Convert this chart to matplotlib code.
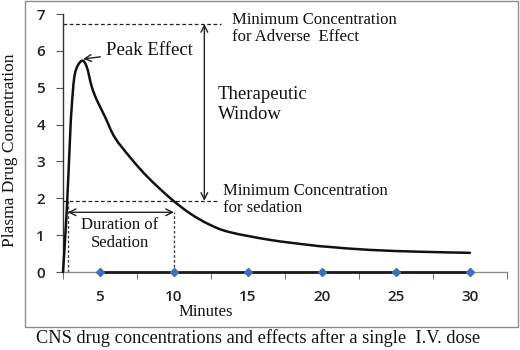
import matplotlib
matplotlib.use("Agg")
import matplotlib.pyplot as plt
from matplotlib.patches import Rectangle, PathPatch
from matplotlib.path import Path

# Data
curve_x = [2.5, 2.75, 2.97, 3.09, 3.31, 3.76, 4.1, 4.44, 4.78, 5.34, 6.0, 7.14, 8.26,
           9.73, 11.08, 12.43, 13.78, 16.5, 19.2, 20.5, 23.2, 26.6, 30.0]
curve_y = [0.0, 1.64, 3.6, 4.49, 5.39, 5.73, 5.57, 5.03, 4.67, 4.21, 3.65, 3.06, 2.56,
           2.01, 1.59, 1.28, 1.08, 0.87, 0.73, 0.68, 0.60, 0.55, 0.52]
marker_x = [5, 10, 15, 20, 25, 30]
marker_y = [0, 0, 0, 0, 0, 0]
x_ticklabels = ["5", "10", "15", "20", "25", "30"]
y_ticks = [0, 1, 2, 3, 4, 5, 6, 7]
adverse_level = 6.73
sedation_level = 1.93
sedation_start = 2.82
sedation_end = 10.0
duration_arrow_y = 1.62
window_x = 12.05
peak_x, peak_y = 3.76, 5.73

serif = "Liberation Serif"
sans = "Open Sans"

W, H = 520, 350
fig = plt.figure(figsize=(W / 100, H / 100), dpi=100)
fig.patch.set_facecolor("white")

def fx(px):
    return px / W

def fy(py):
    return 1 - py / H

ax = fig.add_axes([fx(63), fy(272), fx(507) - fx(63), fy(14) - fy(272)])
ax.set_xlim(2.5, 32.5)
ax.set_ylim(0, 7)
ax.set_facecolor("none")

# border
fig.patches.append(Rectangle((fx(25), fy(327)), fx(518) - fx(25), fy(1) - fy(327),
                             transform=fig.transFigure, fill=False,
                             edgecolor="#8c8c8c", linewidth=1.0))

for s in ["top", "right"]:
    ax.spines[s].set_visible(False)
ax.spines["left"].set_color("#333333")
ax.spines["left"].set_linewidth(1.0)
ax.spines["bottom"].set_color("#8c8c8c")
ax.spines["bottom"].set_linewidth(1.0)

ax.set_yticks(y_ticks)
ax.set_yticklabels([str(v) for v in y_ticks], fontfamily=sans, fontsize=11,
                   fontweight="semibold", color="#222222")
ax.set_xticks(marker_x)
ax.set_xticklabels(x_ticklabels, fontfamily=sans, fontsize=11,
                   fontweight="semibold", color="#222222")
ax.set_xticks([2.5 + 5 * i for i in range(7)], minor=True)
ax.tick_params(axis="x", which="major", length=0, pad=13)
ax.tick_params(axis="x", which="minor", length=5, color="#555555", direction="out")
ax.tick_params(axis="y", length=5, color="#555555", direction="out", pad=8)

# zero series with markers
ax.plot(marker_x, marker_y, color="#1a1a1a", linewidth=2.0, marker="D",
        markersize=4.5, markerfacecolor="#3f6fb5", markeredgecolor="#3f6fb5",
        clip_on=False, zorder=4)

# smoothed concentration curve (Catmull-Rom through the points, as Bezier segments)
pts = list(zip(curve_x, curve_y))
n = len(pts)
verts = [pts[0]]
codes = [Path.MOVETO]
for i in range(n - 1):
    p0 = pts[i - 1] if i > 0 else pts[i]
    p1 = pts[i]
    p2 = pts[i + 1]
    p3 = pts[i + 2] if i + 2 < n else pts[i + 1]
    c1 = (p1[0] + (p2[0] - p0[0]) / 6.0, p1[1] + (p2[1] - p0[1]) / 6.0)
    c2 = (p2[0] - (p3[0] - p1[0]) / 6.0, p2[1] - (p3[1] - p1[1]) / 6.0)
    verts += [c1, c2, p2]
    codes += [Path.CURVE4, Path.CURVE4, Path.CURVE4]
ax.add_patch(PathPatch(Path(verts, codes), facecolor="none", edgecolor="#111111",
                       linewidth=1.8, clip_on=False, zorder=5, capstyle="round",
                       joinstyle="round"))

# dashed horizontal lines
ax.plot([2.5, 13.2], [adverse_level, adverse_level], color="#222222",
        linewidth=0.9, linestyle=(0, (3, 2)))
ax.plot([2.5, 12.9], [sedation_level, sedation_level], color="#222222",
        linewidth=0.9, linestyle=(0, (3, 2)))

# dotted verticals for duration
ax.plot([sedation_start, sedation_start], [0, sedation_level], color="#444444",
        linewidth=1.0, linestyle=(0, (2, 1.5)))
ax.plot([sedation_end, sedation_end], [0, duration_arrow_y], color="#444444",
        linewidth=1.0, linestyle=(0, (2, 1.5)))

# therapeutic window arrow
ax.annotate("", xy=(window_x, adverse_level), xytext=(window_x, sedation_level),
            arrowprops=dict(arrowstyle="<->", color="#222222", lw=1.0,
                            shrinkA=0, shrinkB=0, mutation_scale=12))
# duration arrow
ax.annotate("", xy=(sedation_start, duration_arrow_y), xytext=(sedation_end, duration_arrow_y),
            arrowprops=dict(arrowstyle="<->", color="#222222", lw=1.0,
                            shrinkA=0, shrinkB=0, mutation_scale=12))
# peak effect
ax.annotate("Peak Effect", xy=(peak_x + 0.1, peak_y + 0.05), xytext=(5.4, 6.0),
            fontfamily=serif, fontsize=13.5, color="#111111", va="center",
            arrowprops=dict(arrowstyle="->", color="#222222", lw=1.0,
                            shrinkA=2, shrinkB=0, mutation_scale=12))

def ftext(px, py, s, size, ha="left", **kw):
    fig.text(fx(px), fy(py), s, fontfamily=serif, fontsize=size, color="#111111",
             va="center", ha=ha, **kw)

ftext(232, 20, "Minimum Concentration", 12)
ftext(232, 37, "for Adverse  Effect", 12)
ftext(218, 95, "Therapeutic", 13.5)
ftext(218, 115, "Window", 13.5)
ftext(223, 191, "Minimum Concentration", 12)
ftext(223, 208, "for sedation", 12)
ftext(120, 225, "Duration of", 12, ha="center")
ftext(120, 243, "Sedation", 12, ha="center")
ftext(10, 150, "Plasma Drug Concentration", 12.5, ha="center", rotation=90)
ftext(206, 312, "Minutes", 12, ha="center")
ftext(258, 338, "CNS drug concentrations and effects after a single  I.V. dose", 13.2,
      ha="center")

fig.savefig("out.png", dpi=100)
